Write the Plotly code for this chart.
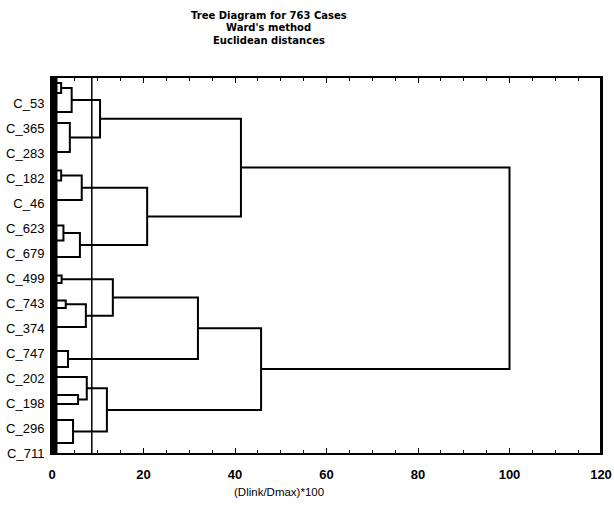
import plotly.graph_objects as go

# ---- data ----
title_lines = ["Tree Diagram for 763 Cases", "Ward's method", "Euclidean distances"]
x_title = "(Dlink/Dmax)*100"
row_labels = ["C_53", "C_365", "C_283", "C_182", "C_46", "C_623", "C_679", "C_499",
              "C_743", "C_374", "C_747", "C_202", "C_198", "C_296", "C_711"]
row_positions = list(range(1, 16))

# positions of collapsed leaf groups along the case axis (row units)
leaf_pos = [0.2, 0.6, 1.36, 1.8, 2.96, 3.7, 4.1, 4.88, 5.9, 6.5, 7.16, 7.9, 8.2,
            8.9, 9.2, 9.96, 10.92, 11.56, 11.96, 12.68, 13.04, 13.68, 14.6]
# merges: child a, child b (leaf index or n_leaves + merge index), linkage distance
merge_a = [0, 23, 3, 24, 5, 27, 8, 29, 28, 26, 11, 13, 34, 33, 16, 36, 19, 18, 21, 40, 38, 32]
merge_b = [1, 2, 4, 25, 6, 7, 9, 10, 30, 31, 12, 14, 15, 35, 17, 37, 20, 39, 22, 41, 42, 43]
merge_h = [2.0, 4.3, 3.9, 10.5, 2.0, 6.5, 2.5, 6.1, 20.8, 41.3, 2.1, 3.0, 7.4, 13.3,
           3.5, 31.9, 5.7, 7.6, 4.6, 12.0, 45.7, 100.0]
cutoff = 8.7
x_ticks = [0, 20, 40, 60, 80, 100, 120]

# ---- build dendrogram path ----
n = len(leaf_pos)
node_y = list(leaf_pos)
node_h = [0.0] * n
xs, ys = [], []
for a, b, h in zip(merge_a, merge_b, merge_h):
    ya, yb = node_y[a], node_y[b]
    xs += [node_h[a], h, h, node_h[b], None]
    ys += [ya, ya, yb, yb, None]
    node_y.append((ya + yb) / 2)
    node_h.append(h)

fig = go.Figure()
fig.add_trace(go.Scatter(x=xs, y=ys, mode="lines",
                         line=dict(color="black", width=2), hoverinfo="skip"))
fig.add_trace(go.Scatter(x=[cutoff, cutoff], y=[0, 15], mode="lines",
                         line=dict(color="black", width=1.5), hoverinfo="skip"))

font = "Liberation Sans, Arial, sans-serif"
title_font = "DejaVu Sans, Liberation Sans, sans-serif"
title_y = [1.168, 1.134, 1.100]
for t, yy in zip(title_lines, title_y):
    fig.add_annotation(text="<b>" + t + "</b>", xref="paper", yref="paper", x=0.395, y=yy,
                       showarrow=False, font=dict(family=title_font, size=10, color="black"),
                       xanchor="center", yanchor="middle")
fig.add_annotation(text=x_title, xref="paper", yref="paper", x=0.413, y=-0.104,
                   showarrow=False, font=dict(family=font, size=11.5, color="black"),
                   xanchor="center", yanchor="middle")

# thick band of collapsed leaves along the left edge
fig.add_shape(type="rect", xref="x", yref="paper", x0=0, x1=1.2, y0=0, y1=1,
              fillcolor="black", line=dict(width=0))
fig.add_shape(type="line", xref="paper", yref="paper", x0=1, x1=1, y0=0, y1=1,
              line=dict(color="black", width=2))

fig.update_layout(
    width=614, height=509,
    margin=dict(l=52, r=13, t=78, b=56, autoexpand=False),
    paper_bgcolor="white", plot_bgcolor="white",
    showlegend=False,
    font=dict(family=font, color="black"),
)
fig.update_xaxes(
    range=[0, 120], tickvals=x_ticks, ticktext=["<b>%d</b>" % v for v in x_ticks],
    ticks="inside", ticklen=5, tickwidth=1, tickcolor="black",
    minor=dict(dtick=5, ticks="inside", ticklen=3, tickcolor="black"),
    showline=True, linecolor="black", linewidth=2, mirror="ticks",
    showgrid=False, zeroline=False, automargin=False,
    ticklabelstandoff=8,
    tickfont=dict(size=13, color="black"),
)
fig.update_yaxes(
    range=[15, 0], tickvals=row_positions, ticktext=row_labels,
    ticks="", showline=True, linecolor="black", linewidth=2, mirror=True,
    showgrid=False, zeroline=False, automargin=False,
    ticklabelstandoff=3,
    tickfont=dict(size=13, color="black"),
)

fig.write_html("out.html", config={"displayModeBar": False},
               post_script="document.body.style.margin='0';")
